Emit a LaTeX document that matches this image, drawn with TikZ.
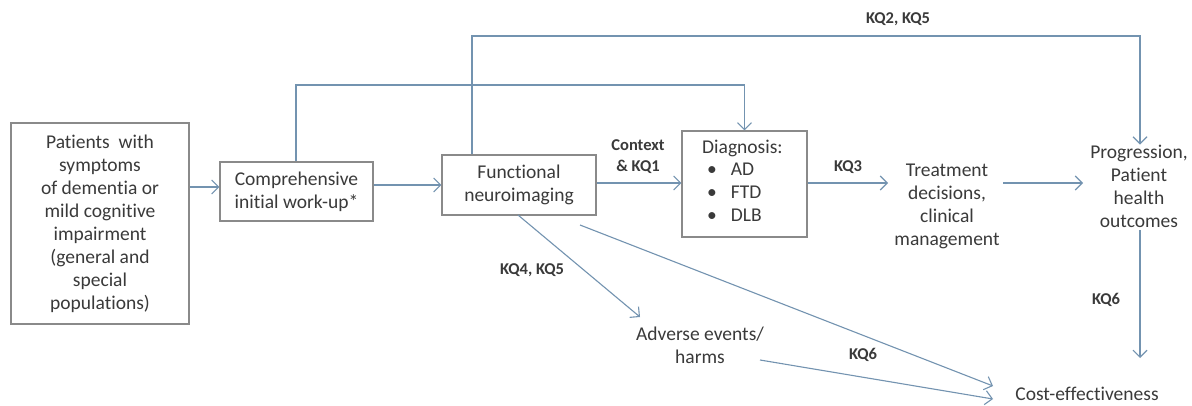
\documentclass[tikz,border=0pt]{standalone}
\usepackage{fontspec}
\setmainfont{Carlito}[Ligatures=NoCommon]
\usetikzlibrary{arrows.meta,calc}
\definecolor{linec}{HTML}{7393B0}
\definecolor{boxc}{HTML}{8A8A8A}
\definecolor{txtc}{HTML}{3A3A3A}
\tikzset{
  box/.style={draw=boxc, line width=1.1pt, align=center, text=txtc, inner sep=0pt, font=\fontsize{19.5}{23}\selectfont},
  plain/.style={align=center, text=txtc, inner sep=0pt, font=\fontsize{19.5}{23}\selectfont},
  lbl/.style={align=center, text=txtc, inner sep=0pt, font=\fontsize{16.5}{21}\selectfont\bfseries},
  conn/.style={draw=linec, line width=1.1pt},
  arr/.style={conn, -{Straight Barb[length=7pt,width=14pt,line width=1.1pt]}},
}
\begin{document}
\begin{tikzpicture}[x=1pt,y=-1pt]
\useasboundingbox[fill=white] (0,0) rectangle (1192,406);
% boxes
\node[box, minimum width=178pt, minimum height=201pt] (pat) at (100,223.5)
  {Patients~ with\\symptoms\\of dementia or\\mild cognitive\\impairment\\(general and\\special\\populations)};
\node[box, minimum width=153pt, minimum height=59pt] (comp) at (296.5,191.5)
  {Comprehensive\\initial work-up*};
\node[box, minimum width=154pt, minimum height=60pt] (func) at (519,185)
  {Functional\\neuroimaging};
\node[box, minimum width=125pt, minimum height=106pt] (diag) at (744.5,184) {};
\node[plain, anchor=north west, align=left] (diagt) at (702,140)
  {Diagnosis:};
\node[plain, anchor=north west, align=left] (diagl) at (707,163)
  {\textbullet\hspace{14pt}AD\\\textbullet\hspace{14pt}FTD\\\textbullet\hspace{14pt}DLB};
\node[plain] (treat) at (947,206) {Treatment\\decisions,\\clinical\\management};
\node[plain] (prog) at (1139,186) {Progression,\\Patient\\health\\outcomes};
\node[plain] (adv) at (700,345) {Adverse events/\\harms};
\node[plain] (cost) at (1087,394) {Cost-effectiveness};
% labels
\node[lbl] (l1) at (638,157) {Context\\\& KQ1};
\node[lbl] (l3) at (848,167) {KQ3};
\node[lbl] (l25) at (898,19) {KQ2, KQ5};
\node[lbl] (l45) at (532,270) {KQ4, KQ5};
\node[lbl] (l6a) at (863,355) {KQ6};
\node[lbl] (l6b) at (1106,300) {KQ6};
% coordinates
\coordinate (c1) at (296,85);
\coordinate (c2) at (744.5,85);
\coordinate (f1) at (472,36);
\coordinate (f2) at (1140,36);
\coordinate (t1) at (888,183);
\coordinate (t2) at (1003,183);
\coordinate (p1) at (1083,183);
\coordinate (ps) at (1140,230);
\coordinate (cs) at (1140,358);
\coordinate (fa) at (518,215);
\coordinate (fb) at (580,225);
\coordinate (aa) at (640,317);
\coordinate (ab) at (760,360);
\coordinate (ce1) at (993,386);
\coordinate (ce2) at (993,399);
% connectors
\draw[arr] (pat.east |- 0,187) -- (comp.west |- 0,187);
\draw[arr] (comp.east |- 0,185) -- (func.west |- 0,185);
\draw[arr] (func.east |- 0,183) -- (diag.west |- 0,183);
\draw[arr] (diag.east |- t1) -- (t1);
\draw[arr] (t2) -- (p1);
\draw[arr] (comp.north -| c1) -- (c1) -- (c2) -- (diag.north);
\draw[arr] (func.north -| f1) -- (f1) -- (f2) -- (prog.north -| f2);
\draw[arr] (ps) -- (cs);
\draw[arr] (fa) -- (aa);
\draw[arr] (fb) -- (ce1);
\draw[arr] (ab) -- (ce2);
\end{tikzpicture}
\end{document}
